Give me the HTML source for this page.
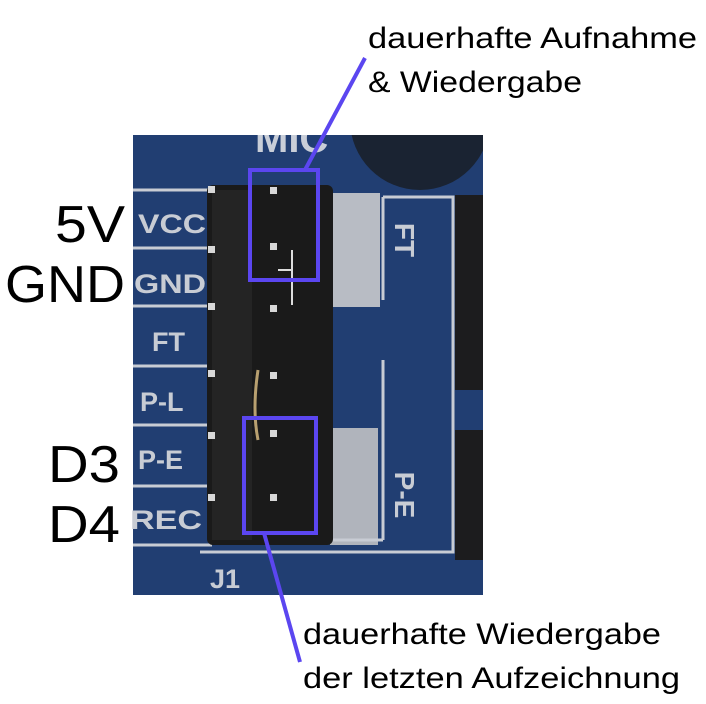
<!DOCTYPE html>
<html><head><style>
html,body{margin:0;padding:0;background:#fff;}
svg{display:block}
</style></head><body>
<svg width="706" height="704" viewBox="0 0 706 704" xmlns="http://www.w3.org/2000/svg" font-family="Liberation Sans, sans-serif">
<defs><clipPath id="pcb"><rect x="133" y="135" width="350" height="460"/></clipPath></defs>
<rect width="706" height="704" fill="#fff"/>
<g clip-path="url(#pcb)">
<rect x="133" y="135" width="350" height="460" fill="#213e72"/>
<circle cx="420" cy="120" r="70" fill="#1a2332"/>
<text x="255" y="152" font-size="40" fill="#c9ced8" font-weight="bold">MIC</text>
<!-- right component -->
<rect x="455" y="195" width="28" height="195" fill="#1c1c1e"/>
<rect x="455" y="430" width="28" height="130" fill="#1c1c1e"/>
</g>
<!-- silkscreen -->
<rect x="327" y="193" width="53" height="114" fill="#b8bcc4"/>
<rect x="330" y="428" width="48" height="117" fill="#b0b4bc"/>
<polyline points="383,197 453,197 453,552 200,552" fill="none" stroke="#c8ccd4" stroke-width="3"/>
<line x1="383" y1="197" x2="383" y2="300" stroke="#c8ccd4" stroke-width="3"/>
<line x1="383" y1="360" x2="383" y2="540" stroke="#c8ccd4" stroke-width="3"/>
<line x1="330" y1="540" x2="383" y2="540" stroke="#c8ccd4" stroke-width="3"/>
<text transform="translate(395,240) rotate(90)" font-size="28" font-weight="bold" fill="#c8ccd4" text-anchor="middle">FT</text>
<text transform="translate(395,495) rotate(90)" font-size="28" font-weight="bold" fill="#c8ccd4" text-anchor="middle">P-E</text>
<g stroke="#c8ccd4" stroke-width="3">
<line x1="133" y1="190" x2="212" y2="190"/>
<line x1="133" y1="248" x2="212" y2="248"/>
<line x1="133" y1="306" x2="212" y2="306"/>
<line x1="133" y1="366" x2="212" y2="366"/>
<line x1="133" y1="425" x2="212" y2="425"/>
<line x1="133" y1="486" x2="212" y2="486"/>
<line x1="133" y1="545" x2="212" y2="545"/>
</g>
<g font-size="27" font-weight="bold" fill="#c8ccd4">
<text x="138" y="233" textLength="68" lengthAdjust="spacingAndGlyphs">VCC</text>
<text x="134" y="293" textLength="72" lengthAdjust="spacingAndGlyphs">GND</text>
<text x="152" y="351">FT</text>
<text x="140" y="411">P-L</text>
<text x="138" y="469">P-E</text>
<text x="130" y="529" textLength="72" lengthAdjust="spacingAndGlyphs">REC</text>
<text x="210" y="588">J1</text>
</g>
<!-- header -->
<rect x="207" y="185" width="126" height="360" rx="6" fill="#1a1a1a"/>
<rect x="212" y="190" width="40" height="350" fill="#242424"/>
<g fill="#d8d8d8">
<rect x="208" y="186" width="7" height="7"/><rect x="208" y="246" width="7" height="7"/>
<rect x="208" y="303" width="7" height="7"/><rect x="208" y="370" width="7" height="7"/>
<rect x="208" y="432" width="7" height="7"/><rect x="208" y="494" width="7" height="7"/>
<rect x="270" y="187" width="7" height="7"/><rect x="270" y="243" width="7" height="7"/>
<rect x="270" y="305" width="7" height="7"/><rect x="270" y="372" width="7" height="7"/>
<rect x="270" y="430" width="7" height="7"/><rect x="270" y="494" width="7" height="7"/>
</g>
<path d="M292 250 V305 M278 270 H292" stroke="#ddd" stroke-width="2" fill="none"/>
<path d="M258 370 Q252 410 258 440" stroke="#b8a070" stroke-width="3" fill="none"/>
<!-- annotations -->
<g stroke="#5b46f0" stroke-width="4" fill="none">
<rect x="250" y="170" width="68" height="110"/>
<rect x="244" y="418" width="72" height="115"/>
<line x1="305" y1="170" x2="365" y2="58"/>
<line x1="264" y1="533" x2="300" y2="662"/>
</g>
<g font-size="52" fill="#000">
<text x="55" y="242" textLength="70" lengthAdjust="spacingAndGlyphs">5V</text>
<text x="5" y="302" textLength="120" lengthAdjust="spacingAndGlyphs">GND</text>
<text x="48" y="482" textLength="72" lengthAdjust="spacingAndGlyphs">D3</text>
<text x="48" y="542" textLength="72" lengthAdjust="spacingAndGlyphs">D4</text>
</g>
<g font-size="30" fill="#000">
<text x="368" y="48" textLength="329" lengthAdjust="spacingAndGlyphs">dauerhafte Aufnahme</text>
<text x="368" y="92" textLength="214" lengthAdjust="spacingAndGlyphs">&amp; Wiedergabe</text>
<text x="303" y="644" textLength="358" lengthAdjust="spacingAndGlyphs">dauerhafte Wiedergabe</text>
<text x="303" y="688" textLength="377" lengthAdjust="spacingAndGlyphs">der letzten Aufzeichnung</text>
</g>
</svg>
</body></html>
